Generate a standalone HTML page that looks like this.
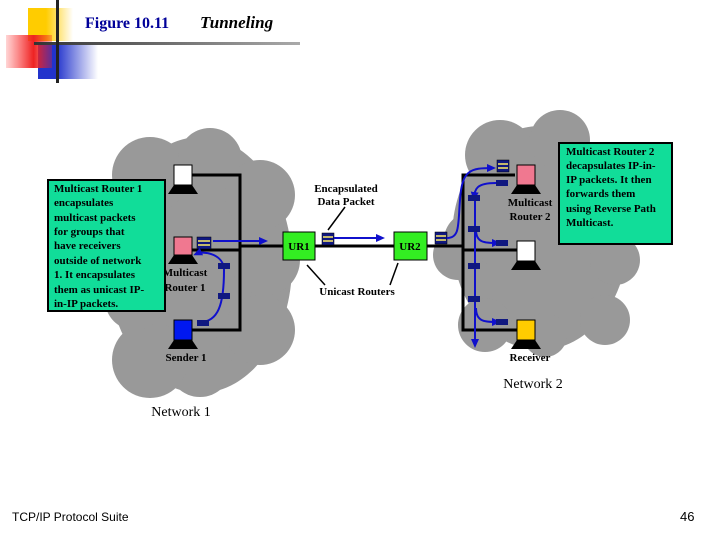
<!DOCTYPE html>
<html><head><style>
body{margin:0;width:720px;height:540px;background:#fff;overflow:hidden;position:relative;font-family:"Liberation Serif",serif}
</style></head><body>
<svg width="720" height="540" style="position:absolute;left:0;top:0">
<defs>
<linearGradient id="gy" x1="0" x2="1"><stop offset="0.4" stop-color="#ffcc00"/><stop offset="1" stop-color="#ffcc00" stop-opacity="0"/></linearGradient>
<linearGradient id="gr" x1="0" x2="1"><stop offset="0" stop-color="#ff3030" stop-opacity="0.2"/><stop offset="0.6" stop-color="#ee2222"/><stop offset="1" stop-color="#ee2222" stop-opacity="0.3"/></linearGradient>
<linearGradient id="gb" x1="0" x2="1"><stop offset="0.3" stop-color="#2233cc"/><stop offset="1" stop-color="#2233cc" stop-opacity="0"/></linearGradient>
<linearGradient id="gl" x1="0" x2="1"><stop offset="0" stop-color="#333"/><stop offset="1" stop-color="#aaa"/></linearGradient>
<marker id="ah" markerWidth="9" markerHeight="8" refX="6" refY="4" orient="auto" markerUnits="userSpaceOnUse"><path d="M0,0 L9,4 L0,8z" fill="#1010cc"/></marker>
</defs>
<rect x="28" y="8" width="45" height="33" fill="url(#gy)"/>
<rect x="38" y="45" width="60" height="34" fill="url(#gb)"/>
<rect x="6" y="35" width="46" height="33" fill="url(#gr)"/>
<rect x="34" y="42" width="266" height="3" fill="url(#gl)"/>
<rect x="56" y="0" width="3" height="83" fill="#222"/>
<g fill="#999">
<ellipse cx="200" cy="265" rx="92" ry="128"/>
<circle cx="150" cy="175" r="38"/><circle cx="210" cy="160" r="32"/><circle cx="260" cy="195" r="35"/>
<circle cx="265" cy="260" r="35"/><circle cx="260" cy="330" r="35"/><circle cx="200" cy="365" r="32"/>
<circle cx="150" cy="360" r="38"/><circle cx="135" cy="300" r="30"/><circle cx="135" cy="230" r="30"/>
<ellipse cx="540" cy="238" rx="88" ry="112"/>
<circle cx="500" cy="155" r="35"/><circle cx="560" cy="140" r="30"/><circle cx="610" cy="175" r="30"/>
<circle cx="615" cy="260" r="25"/><circle cx="605" cy="320" r="25"/><circle cx="545" cy="335" r="22"/>
<circle cx="485" cy="325" r="27"/><circle cx="472" cy="240" r="28"/><circle cx="458" cy="255" r="25"/>
</g>
<g stroke="#000" stroke-width="3" fill="none">
<polyline points="192,175 240,175 240,330 192,330"/>
<line x1="192" y1="250" x2="240" y2="250"/>
<line x1="240" y1="246" x2="463" y2="246"/>
<polyline points="515,175 463,175 463,330 517,330"/>
<line x1="463" y1="250" x2="517" y2="250"/>
</g>
<g>
<rect x="174" y="165" width="18" height="20" fill="#fff" stroke="#000"/><path d="M174,185h18l6,9h-30z" fill="#000"/>
<rect x="174" y="237" width="18" height="18" fill="#f07890" stroke="#000"/><path d="M174,255h18l6,9h-30z" fill="#000"/>
<rect x="174" y="320" width="18" height="20" fill="#0018f0" stroke="#000"/><path d="M174,340h18l6,9h-30z" fill="#000"/>
<rect x="517" y="165" width="18" height="20" fill="#f07890" stroke="#000"/><path d="M517,185h18l6,9h-30z" fill="#000"/>
<rect x="517" y="241" width="18" height="20" fill="#fff" stroke="#000"/><path d="M517,261h18l6,9h-30z" fill="#000"/>
<rect x="517" y="320" width="18" height="20" fill="#ffcc00" stroke="#000"/><path d="M517,340h18l6,9h-30z" fill="#000"/>
</g>
<rect x="283" y="232" width="32" height="28" fill="#33ee22" stroke="#000"/>
<rect x="394" y="232" width="33" height="28" fill="#33ee22" stroke="#000"/>
<g fill="#101880" stroke="#000" stroke-width="0.5">
<rect x="197" y="237" width="14" height="12"/><rect x="322" y="233" width="12" height="12"/>
<rect x="435" y="232" width="12" height="12"/><rect x="497" y="160" width="12" height="12"/>
</g>
<g stroke="#ffee66" stroke-width="1.5">
<line x1="198" y1="241" x2="210" y2="241"/><line x1="198" y1="245" x2="210" y2="245"/>
<line x1="323" y1="237" x2="333" y2="237"/><line x1="323" y1="241" x2="333" y2="241"/>
<line x1="436" y1="236" x2="446" y2="236"/><line x1="436" y1="240" x2="446" y2="240"/>
<line x1="498" y1="164" x2="508" y2="164"/><line x1="498" y1="168" x2="508" y2="168"/>
</g>
<g stroke="#1010cc" stroke-width="2" fill="none" marker-end="url(#ah)">
<line x1="213" y1="241" x2="265" y2="241"/>
<line x1="334" y1="238" x2="382" y2="238"/>
<path d="M447,238 C460,238 458,225 460,200 C462,170 470,168 493,168"/>
<path d="M200,322 C218,322 224,305 224,270 C224,255 205,250 196,254"/>
<path d="M496,183 C475,183 475,190 474,198"/>
<path d="M475,200 L475,345"/>
<path d="M476,230 C476,243 485,243 498,243"/>
<path d="M476,308 C476,322 485,322 498,322"/>
</g>
<g fill="#101880">
<rect x="197" y="320" width="12" height="6"/><rect x="218" y="263" width="12" height="6"/><rect x="218" y="293" width="12" height="6"/>
<rect x="468" y="195" width="12" height="6"/><rect x="468" y="226" width="12" height="6"/><rect x="468" y="263" width="12" height="6"/>
<rect x="468" y="296" width="12" height="6"/><rect x="496" y="180" width="12" height="6"/><rect x="496" y="240" width="12" height="6"/><rect x="496" y="319" width="12" height="6"/>
</g>
<g stroke="#000" stroke-width="1.5">
<line x1="345" y1="207" x2="328" y2="230"/>
<line x1="325" y1="285" x2="307" y2="265"/>
<line x1="390" y1="285" x2="398" y2="263"/>
</g>
<g font-family="Liberation Serif,serif" font-weight="bold" font-size="11" fill="#000" text-anchor="middle">
<text x="346" y="192">Encapsulated</text><text x="346" y="205">Data Packet</text>
<text x="357" y="295">Unicast Routers</text>
<text x="299" y="250">UR1</text><text x="410" y="250">UR2</text>
<text x="530" y="206">Multicast</text><text x="530" y="220">Router 2</text>
<text x="530" y="361">Receiver</text><text x="186" y="361">Sender 1</text>
<text x="185" y="276">Multicast</text><text x="185" y="291">Router 1</text>
</g>
<text x="533" y="388" font-size="14" text-anchor="middle">Network 2</text>
<text x="181" y="416" font-size="14" text-anchor="middle">Network 1</text>
<rect x="48" y="180" width="117" height="131" fill="#11dd99" stroke="#000" stroke-width="2"/>
<g font-weight="bold" font-size="11">
<text x="54" y="192">Multicast Router 1</text><text x="54" y="206">encapsulates</text><text x="54" y="221">multicast packets</text>
<text x="54" y="235">for groups that</text><text x="54" y="249">have receivers</text><text x="54" y="264">outside of network</text>
<text x="54" y="278">1. It encapsulates</text><text x="54" y="293">them as unicast IP-</text><text x="54" y="307">in-IP packets.</text>
</g>
<rect x="559" y="143" width="113" height="101" fill="#11dd99" stroke="#000" stroke-width="2"/>
<g font-weight="bold" font-size="11">
<text x="566" y="155">Multicast Router 2</text><text x="566" y="169">decapsulates IP-in-</text><text x="566" y="183">IP packets. It then</text>
<text x="566" y="197">forwards them</text><text x="566" y="212">using Reverse Path</text><text x="566" y="226">Multicast.</text>
</g>
<text x="85" y="28" font-size="16" font-weight="bold" fill="#000099">Figure 10.11</text>
<text x="200" y="28" font-size="17" font-weight="bold" font-style="italic">Tunneling</text>
<text x="12" y="521" font-family="Liberation Sans,sans-serif" font-size="12">TCP/IP Protocol Suite</text>
<text x="680" y="521" font-family="Liberation Sans,sans-serif" font-size="13">46</text>
</svg>
</body></html>
